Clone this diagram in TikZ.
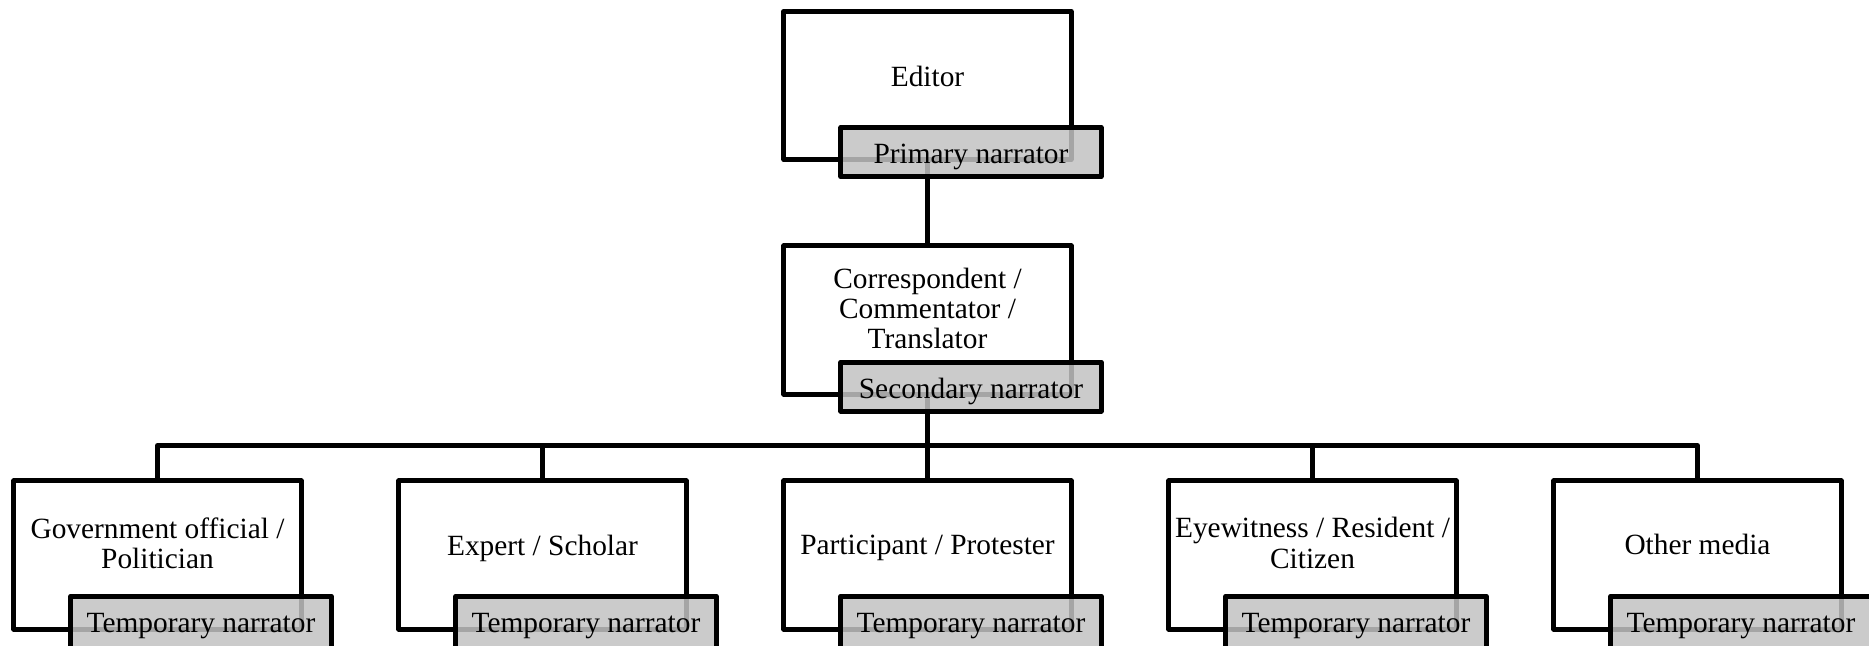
\documentclass[tikz,border=0pt]{standalone}
\usepackage{fontspec}
\setmainfont{Liberation Serif}
\usetikzlibrary{calc}
\definecolor{tagfill}{RGB}{195,195,195}
\begin{document}
\begin{tikzpicture}[x=0.01cm,y=-0.01cm,
  every node/.style={font=\fontsize{8.35pt}{8.6pt}\selectfont},
  rolebox/.style={draw, line width=0.05cm, line join=round, minimum width=2.87cm,
    minimum height=1.48cm, inner sep=0pt, outer sep=0pt},
  tagbox/.style={draw, line width=0.05cm, line join=round, fill=tagfill,
    fill opacity=0.85, text opacity=1, minimum width=2.60cm, minimum height=0.49cm,
    text height=0.662em, text depth=0pt,
    inner sep=0pt, outer sep=0pt, anchor=north west},
  lowtag/.style={tagbox, minimum height=0.55cm, text depth=0.06cm},
  roletext/.style={align=center, inner sep=0pt},
  link/.style={line width=0.05cm, line join=round}
]
\useasboundingbox (0,0) rectangle (1869,646);
\fill[white] (0,0) rectangle (1869,646);
\clip (0,0) rectangle (1869,646);

% role boxes
\node[rolebox] (editor) at (927.5,85.5) {};
\node[rolebox] (corr)   at (927.5,320) {};
\node[rolebox] (gov)    at (157.5,555) {};
\node[rolebox] (expert) at (542.5,555) {};
\node[rolebox] (part)   at (927.5,555) {};
\node[rolebox] (eye)    at (1312.5,555) {};
\node[rolebox] (other)  at (1697.5,555) {};

% connectors
\coordinate (bus) at (927.5,445.5);
\draw[link] (editor.south) -- (corr.north);
\draw[link] (corr.south) -- (part.north);
\draw[link] (gov.north) |- (bus) -| (other.north);
\draw[link] (expert.north) -- (expert.north |- bus);
\draw[link] (eye.north) -- (eye.north |- bus);

% narrator tags
\node[tagbox] (editortag) at ($(editor.south west)+(57,-32)$) {Primary narrator};
\node[tagbox] (corrtag)   at ($(corr.south west)+(57,-32)$) {Secondary narrator};
\node[lowtag] (govtag)    at ($(gov.south west)+(57,-33)$) {Temporary narrator};
\node[lowtag] (experttag) at ($(expert.south west)+(57,-33)$) {Temporary narrator};
\node[lowtag] (parttag)   at ($(part.south west)+(57,-33)$) {Temporary narrator};
\node[lowtag] (eyetag)    at ($(eye.south west)+(57,-33)$) {Temporary narrator};
\node[lowtag] (othertag)  at ($(other.south west)+(57,-33)$) {Temporary narrator};

% role names
\node[roletext] (editorname) at ($(editor.center)+(0,-9.5)$) {Editor};
\node[roletext] (corrname)   at ($(corr.center)+(0,-11.5)$) {Correspondent /\\Commentator /\\Translator};
\node[roletext] (govname)    at ($(gov.center)+(0,-11.5)$) {Government official /\\Politician};
\node[roletext] (expertname) at ($(expert.center)+(0,-7)$) {Expert / Scholar};
\node[roletext] (partname)   at ($(part.center)+(0,-7)$) {Participant / Protester};
\node[roletext] (eyename)    at ($(eye.center)+(0,-12)$) {Eyewitness / Resident /\\Citizen};
\node[roletext] (othername)  at ($(other.center)+(0,-11)$) {Other media};
\end{tikzpicture}
\end{document}
